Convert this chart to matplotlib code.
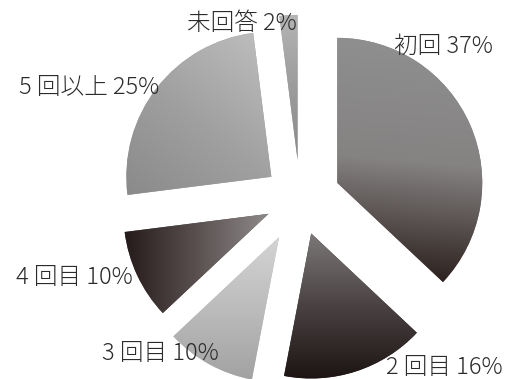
import numpy as np
import matplotlib
matplotlib.use("Agg")
import matplotlib.pyplot as plt

plt.rcParams['font.family'] = ['Noto Sans CJK JP', 'DejaVu Sans']

# Survey answers (share of respondents, %)
labels = ['初回', '2 回目', '3 回目', '4 回目', '5 回以上', '未回答']
values = [37, 16, 10, 10, 25, 2]

# per-slice styling: explode offset, gradient direction (deg), three colour stops
explode = [0.28, 0.25, 0.30, 0.24, 0.25, 0.27]
grad_dir = [-95, -90, -90, 180, -130, -90]
light = ['#8f8f8f', '#7c7878', '#d4d4d4', '#8e8a8a', '#bcbcbc', '#b4b4b4']
mid = ['#858282', '#4a4242', '#bcbcbc', '#5a5050', '#a0a0a0', '#9c9c9c']
dark = ['#2c211e', '#1d1514', '#a2a2a2', '#261b1b', '#8a8a8a', '#8a8a8a']

# label anchor points in pixels (x, y from top)
label_pos = [(443, 46), (444, 367), (160, 354), (74, 278), (89, 87), (242, 23)]

W, H = 516, 379
fig = plt.figure(figsize=(W / 100, H / 100), dpi=100)
ax = fig.add_axes([0, 0, 1, 1])

wedges, _ = ax.pie(values, explode=explode, startangle=90, counterclock=False,
                   radius=1, wedgeprops=dict(linewidth=0))

# 1 data unit = 145 px, pie centre at pixel (300, 199)
scale = 145.0
x0, x1 = -300 / scale, (W - 300) / scale
y0, y1 = -(H - 199) / scale, 199 / scale

gx = np.linspace(x0, x1, 700)
gy = np.linspace(y0, y1, 520)
X, Y = np.meshgrid(gx, gy)


def rgb(c):
    return np.array(matplotlib.colors.to_rgb(c))


for w, a, c0, cm, c1 in zip(wedges, grad_dir, light, mid, dark):
    cx, cy = w.center
    th = np.radians(np.linspace(w.theta1, w.theta2, 50))
    px = np.concatenate([[cx], cx + w.r * np.cos(th)])
    py = np.concatenate([[cy], cy + w.r * np.sin(th)])
    d = np.array([np.cos(np.radians(a)), np.sin(np.radians(a))])
    tp = px * d[0] + py * d[1]
    t = (X * d[0] + Y * d[1] - tp.min()) / (tp.max() - tp.min())
    t = np.clip(t, 0, 1)[..., None]
    # two linear segments: light -> mid -> dark
    lo = rgb(c0) + (rgb(cm) - rgb(c0)) * np.clip(t * 2, 0, 1)
    img = np.where(t < 0.5, lo, rgb(cm) + (rgb(c1) - rgb(cm)) * np.clip(t * 2 - 1, 0, 1))
    w.set_facecolor(cm)
    im = ax.imshow(img, extent=(x0, x1, y0, y1), origin='lower',
                   interpolation='bilinear', zorder=w.get_zorder() + 0.1)
    im.set_clip_path(w)

ax.set_xlim(x0, x1)
ax.set_ylim(y0, y1)
ax.set_aspect('equal')
ax.axis('off')

for lab, v, (px_, py_) in zip(labels, values, label_pos):
    fig.text(px_ / W, 1 - py_ / H, f'{lab} {v}%', ha='center', va='center',
             fontsize=17, fontweight='light', color='#2b2b2b')

fig.savefig('out.png', dpi=100)
